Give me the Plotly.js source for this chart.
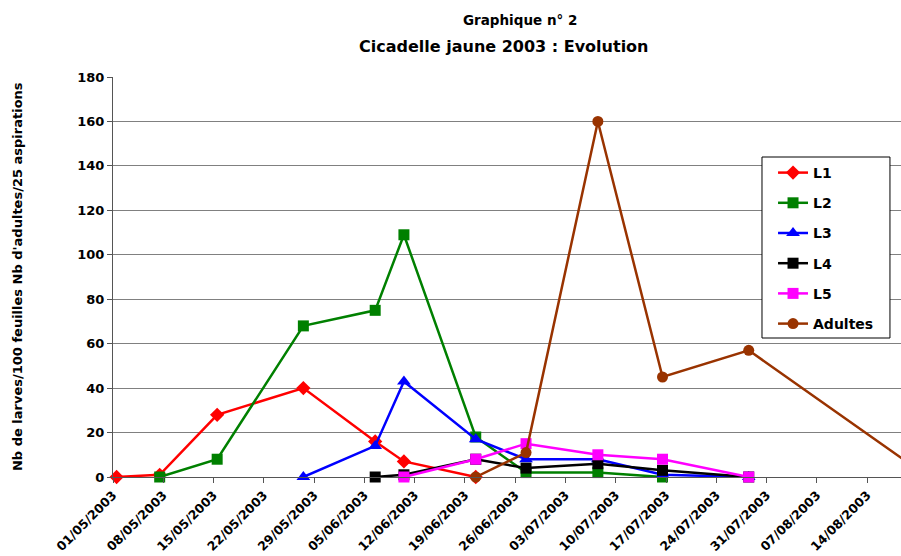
<!DOCTYPE html>
<html>
<head>
<meta charset="utf-8">
<script src="https://cdn.plot.ly/plotly-3.0.1.min.js"></script>
<style>html,body{margin:0;padding:0;background:#fff;}#chart{width:901px;height:556px;}</style>
</head>
<body>
<div id="chart"></div>
<script>
// Sampling dates
var dates = ['2003-05-01','2003-05-07','2003-05-15','2003-05-27','2003-06-06','2003-06-10',
             '2003-06-20','2003-06-27','2003-07-07','2003-07-16','2003-07-28','2003-08-22'];
// Series values (null = no observation)
var L1      = [0, 1, 28, 40, 16, 7, 0, null, null, null, null, null];
var L2      = [null, 0, 8, 68, 75, 109, 18, 2, 2, 0, null, null];
var L3      = [null, null, null, 0, 14, 43, 17, 8, 8, 1, 0, null];
var L4      = [null, null, null, null, 0, 1, 8, 4, 6, 3, 0, null];
var L5      = [null, null, null, null, null, 0, 8, 15, 10, 8, 0, null];
var Adultes = [null, null, null, null, null, null, 0, 11, 160, 45, 57, 0];
var seriesNames = ['L1','L2','L3','L4','L5','Adultes'];
var yTicks = [0,20,40,60,80,100,120,140,160,180];

// Excel date axis centres each point in the middle of its day
var xs = dates.map(function(d){ return d + ' 12:00'; });

var FONT = 'DejaVu Sans, Arial, sans-serif';
var styles = [
  {color:'#FF0000', symbol:'diamond', size:11},
  {color:'#008000', symbol:'square', size:11},
  {color:'#0000FF', symbol:'triangle-up', size:12},
  {color:'#000000', symbol:'square', size:11},
  {color:'#FF00FF', symbol:'square', size:11},
  {color:'#993300', symbol:'circle', size:11}
];
var values = [L1, L2, L3, L4, L5, Adultes];

var traces = values.map(function(v, i){
  return {
    type:'scatter', mode:'lines+markers', name: seriesNames[i],
    x: xs, y: v, legendgroup: 'g'+i,
    line:{color: styles[i].color, width:2.5},
    marker:{color: styles[i].color, symbol: styles[i].symbol, size: styles[i].size},
    cliponaxis:false, hoverinfo:'x+y+name'
  };
});

var layout = {
  width:901, height:556,
  margin:{l:113, r:0, t:77, b:79},
  paper_bgcolor:'#fff', plot_bgcolor:'#fff',
  font:{family:FONT, color:'#000'},
  showlegend:true,
  legend:{
    x:0.8376, y:0.8, xanchor:'left', yanchor:'top',
    borderwidth:0, bgcolor:'rgba(0,0,0,0)',
    font:{family:FONT, size:14, weight:700, color:'#000'},
    tracegroupgap:9
  },
  shapes:[
    {type:'rect', xref:'paper', yref:'paper', x0:0.8236, x1:0.986, y0:0.3475, y1:0.8,
     line:{color:'#000', width:1}, fillcolor:'#fff', layer:'above'}
  ],
  xaxis:{
    type:'date',
    range:['2003-05-01 00:00','2003-08-18 16:48'],
    tick0:'2003-05-01', dtick:7*24*3600*1000,
    tickformat:'%d/%m/%Y', tickangle:-45,
    ticks:'outside', ticklen:5, tickcolor:'#555',
    showline:true, linecolor:'#555', linewidth:1,
    showgrid:false, zeroline:false, ticklabelstandoff:0,
    tickfont:{family:FONT, size:12.5, weight:700, color:'#000'}
  },
  yaxis:{
    range:[0,180], tickvals:yTicks,
    ticks:'outside', ticklen:5, tickcolor:'#555',
    showline:true, linecolor:'#555', linewidth:1,
    showgrid:true, gridcolor:'#808080', gridwidth:1,
    zeroline:false,
    tickfont:{family:FONT, size:13, weight:700, color:'#000'}
  },
  annotations:[
    {text:'Cicadelle jaune 2003 : Evolution', xref:'paper', yref:'paper', x:0.4968, y:1.0775,
     xanchor:'center', yanchor:'middle', showarrow:false,
     font:{family:FONT, size:16, weight:700, color:'#000'}},
    {text:'Graphique n° 2', xref:'paper', yref:'paper', x:0.517, y:1.1425,
     xanchor:'center', yanchor:'middle', showarrow:false,
     font:{family:FONT, size:13.5, weight:700, color:'#000'}},
    {text:'Nb de larves/100 feuilles Nb d\'adultes/25 aspirations', xref:'paper', yref:'paper',
     x:-0.1218, y:0.5, xanchor:'center', yanchor:'middle', textangle:-90, showarrow:false,
     font:{family:FONT, size:13, weight:700, color:'#000'}}
  ]
};

Plotly.newPlot('chart', traces, layout, {staticPlot:true, displayModeBar:false});
</script>
</body>
</html>
